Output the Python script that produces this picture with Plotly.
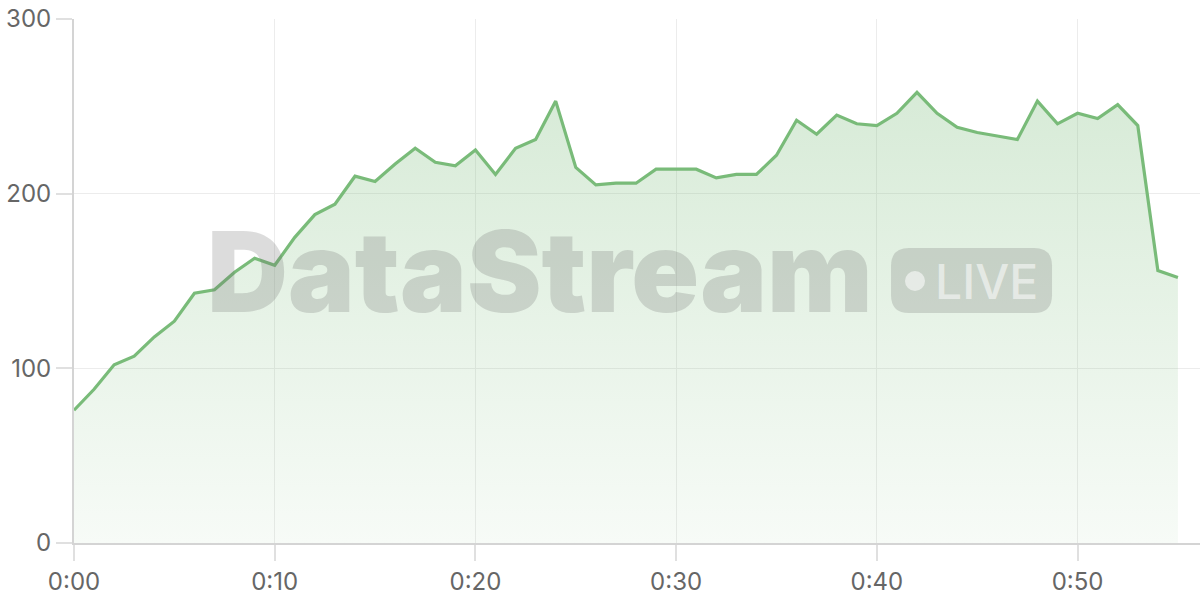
import plotly.graph_objects as go

# minutes since start and the live counter value for each minute
minutes = list(range(56))
values = [76, 88, 102, 107, 118, 127, 143, 145, 155, 163,
          159, 175, 188, 194, 210, 207, 217, 226, 218, 216,
          225, 211, 226, 231, 253, 215, 205, 206, 206, 214,
          214, 214, 209, 211, 211, 222, 242, 234, 245, 240,
          239, 246, 258, 246, 238, 235, 233, 231, 253, 240,
          246, 243, 251, 239, 156, 152]

x_ticks = [0, 10, 20, 30, 40, 50]
x_tick_labels = ["0:00", "0:10", "0:20", "0:30", "0:40", "0:50"]
y_ticks = [0, 100, 200, 300]

mark = "rgba(110,110,110,0.24)"
knock = "rgba(255,255,255,0.55)"

fig = go.Figure()

fig.add_trace(go.Scatter(
    x=minutes, y=values,
    mode="lines",
    line=dict(color="#79bb79", width=3.2),
    fill="tozeroy",
    fillgradient=dict(
        type="vertical",
        start=0, stop=260,
        colorscale=[[0, "rgba(121,187,121,0.06)"],
                    [1, "rgba(121,187,121,0.30)"]],
    ),
    hoverinfo="skip",
    showlegend=False,
))

# watermark text
fig.add_annotation(
    xref="paper", yref="paper", x=0.414, y=0.519,
    xanchor="center", yanchor="middle",
    text="DataStream", showarrow=False,
    font=dict(family="Inter", size=112, weight=900, color=mark),
)

# LIVE badge: rounded box, dot and label
x0, x1, y0, y1 = 0.7256, 0.8686, 0.439, 0.563
rx, ry = 0.016, 0.0344
badge = (f"M {x0+rx},{y0} L {x1-rx},{y0} Q {x1},{y0} {x1},{y0+ry} "
         f"L {x1},{y1-ry} Q {x1},{y1} {x1-rx},{y1} "
         f"L {x0+rx},{y1} Q {x0},{y1} {x0},{y1-ry} "
         f"L {x0},{y0+ry} Q {x0},{y0} {x0+rx},{y0} Z")
fig.add_shape(type="path", xref="paper", yref="paper", path=badge,
              fillcolor=mark, line_width=0, layer="above")
fig.add_shape(type="circle", xref="paper", yref="paper",
              x0=0.738, x1=0.7558, y0=0.481, y1=0.519,
              fillcolor=knock, line_width=0, layer="above")
fig.add_annotation(
    xref="paper", yref="paper", x=0.81, y=0.5,
    xanchor="center", yanchor="middle",
    text="LIVE", showarrow=False,
    font=dict(family="Inter", size=48, weight=500, color=knock),
)

axis_style = dict(
    showgrid=True, gridcolor="#ececec", gridwidth=1,
    ticks="outside", ticklen=16, tickcolor="#e0e0e0", tickwidth=1.5,
    showline=True, linecolor="#d4d4d4", linewidth=2,
    zeroline=False, automargin=False,
    tickfont=dict(family="Inter", size=24, color="#666"),
)
fig.update_xaxes(range=[0, 56.1], tickvals=x_ticks, ticktext=x_tick_labels, **axis_style)
fig.update_yaxes(range=[0, 300], tickvals=y_ticks, **axis_style)

fig.update_layout(
    width=1200, height=600,
    margin=dict(l=74, r=0, t=19, b=57),
    plot_bgcolor="white", paper_bgcolor="white",
)

# the page body has a default 8px margin; drop it so the chart sits at 0,0
fig.write_html("out.html", config={"displayModeBar": False},
               post_script="document.body.style.margin='0';")
